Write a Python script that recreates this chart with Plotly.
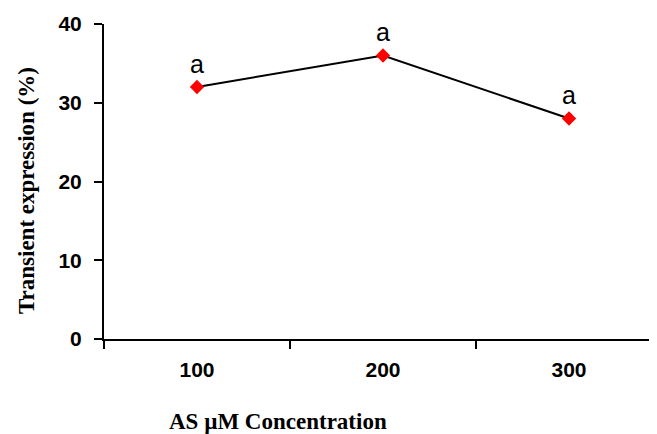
import plotly.graph_objects as go

categories = ["100", "200", "300"]
values = [32, 36, 28]
letters = ["a", "a", "a"]
y_ticks = [0, 10, 20, 30, 40]

fig = go.Figure()
fig.add_trace(go.Scatter(
    x=categories, y=values, mode="lines+markers+text",
    line=dict(color="black", width=2),
    marker=dict(symbol="diamond", color="red", size=11),
    text=letters, textposition="top center",
    textfont=dict(family="Liberation Sans, Arial", size=25, color="black"),
    showlegend=False, cliponaxis=False,
))

fig.add_annotation(xref="paper", yref="paper", x=0.114, y=-0.263, xanchor="left", yanchor="middle",
                   text="<b>AS µM Concentration</b>", showarrow=False,
                   font=dict(family="Liberation Serif, Times New Roman", size=23, color="black"))
fig.add_annotation(xref="paper", yref="paper", x=-0.139, y=0.47, xanchor="center", yanchor="middle",
                   text="<b>Transient expression (%)</b>", showarrow=False, textangle=-90,
                   font=dict(family="Liberation Serif, Times New Roman", size=23, color="black"))

fig.update_xaxes(
    type="category", range=[-0.5, 2.473], showline=True, linecolor="black", linewidth=2,
    ticks="outside", tickson="boundaries", ticklen=8, tickwidth=2, tickcolor="black",
    showgrid=False, zeroline=False, automargin=False, ticklabelstandoff=11,
    tickfont=dict(family="Liberation Sans, Arial", size=21, color="black", weight="bold"),
)
fig.update_yaxes(
    range=[0, 40], tickvals=y_ticks, showline=True, linecolor="black", linewidth=2,
    ticks="outside", ticklen=8, tickwidth=2, tickcolor="black",
    showgrid=False, zeroline=False, automargin=False, ticklabelstandoff=8,
    tickfont=dict(family="Liberation Sans, Arial", size=21, color="black", weight="bold"),
)
# The page adds an 8px body margin, so the figure is sized to fill the window after that offset.
fig.update_layout(
    width=649, height=426, margin=dict(l=96, r=0, t=16, b=95),
    plot_bgcolor="white", paper_bgcolor="white",
)
fig.write_html("out.html")
